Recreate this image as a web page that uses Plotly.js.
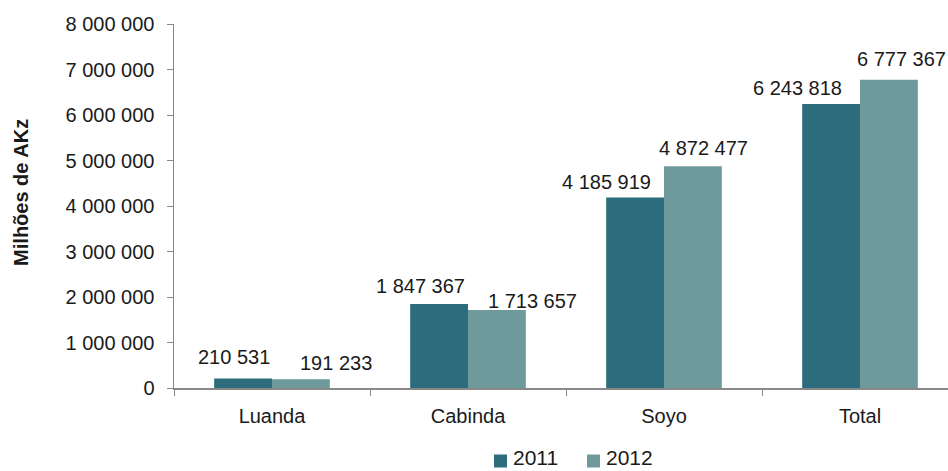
<!DOCTYPE html>
<html><head><meta charset="utf-8">
<script src="https://cdn.plot.ly/plotly-3.0.1.min.js"></script>
<style>html,body{margin:0;padding:0;background:#fff}</style>
</head><body><div id="c" style="width:948px;height:471px"></div>
<script>
const categories = ["Luanda", "Cabinda", "Soyo", "Total"];
const seriesNames = ["2011", "2012"];
const seriesColors = ["#2C6C7C", "#6E9A9C"];
const values2011 = [210531, 1847367, 4185919, 6243818];
const values2012 = [191233, 1713657, 4872477, 6777367];
const labels2011 = ["210 531", "1 847 367", "4 185 919", "6 243 818"];
const labels2012 = ["191 233", "1 713 657", "4 872 477", "6 777 367"];
const yTickVals = [0, 1000000, 2000000, 3000000, 4000000, 5000000, 6000000, 7000000, 8000000];
const yTickText = ["0", "1 000 000", "2 000 000", "3 000 000", "4 000 000", "5 000 000", "6 000 000", "7 000 000", "8 000 000"];

// label placement (pixel nudges, as in the original)
const dx2011 = [-9, -19, -29, -34], dx2012 = [35, 35, 10, 12];
const gap2011 = [14, 11, 9, 9], gap2012 = [9, 2, 11, 14];
const halfBar = 29;

const W = 948, H = 471, ML = 174, MT = 24, MB = 83;
const PW = W - ML, PH = H - MT - MB;
const px = v => (v - ML) / PW;          // pixel -> paper x
const py = v => (H - MB - v) / PH;      // pixel -> paper y

const FAM = "Liberation Sans, Arial, sans-serif";
const font = {family: FAM, size: 20, color: "#1a1a1a"};
const traces = [
  {type: "bar", name: seriesNames[0], x: categories, y: values2011,
   marker: {color: seriesColors[0]}},
  {type: "bar", name: seriesNames[1], x: categories, y: values2012,
   marker: {color: seriesColors[1]}}
];
const annotations = [];
const shapes = [];
const DESC = 6;
categories.forEach((c, i) => {
  annotations.push({x: c, y: values2011[i], xref: "x", yref: "y", text: labels2011[i],
    showarrow: false, xanchor: "center", yanchor: "bottom", font: font,
    xshift: -halfBar + dx2011[i], yshift: gap2011[i] - DESC});
  annotations.push({x: c, y: values2012[i], xref: "x", yref: "y", text: labels2012[i],
    showarrow: false, xanchor: "center", yanchor: "bottom", font: font,
    xshift: halfBar + dx2012[i], yshift: gap2012[i] - DESC});
});
annotations.push({xref: "paper", yref: "paper", x: 0, y: 0.536, xshift: -153,
  xanchor: "center", yanchor: "middle", textangle: -90, showarrow: false,
  text: "<b>Milhões de AKz</b>", font: {family: FAM, size: 20, color: "#1a1a1a"}});

// legend (drawn manually to match the original placement)
const legendX = [494, 587], legendSqMid = 461, sq = 13, legendBottom = 470.5;
seriesNames.forEach((n, k) => {
  shapes.push({type: "rect", xref: "paper", yref: "paper",
    x0: px(legendX[k]), x1: px(legendX[k] + sq), y0: py(legendSqMid + 6.5), y1: py(legendSqMid - 6.5),
    fillcolor: seriesColors[k], line: {width: 0}});
  annotations.push({xref: "paper", yref: "paper", x: px(legendX[k] + sq + 4), y: py(legendBottom),
    xanchor: "left", yanchor: "bottom", showarrow: false, text: n,
    font: {family: FAM, size: 21, color: "#1a1a1a"}});
});

const layout = {
  width: W, height: H,
  margin: {l: ML, r: 0, t: MT, b: MB},
  paper_bgcolor: "#fff", plot_bgcolor: "#fff",
  font: font,
  barmode: "group", bargap: 0.41, bargroupgap: 0,
  xaxis: {range: [-0.5, 3.449], showline: true, linecolor: "#888", linewidth: 1.5,
          ticks: "outside", tickson: "boundaries", ticklen: 6, tickcolor: "#888",
          showgrid: false, zeroline: false, tickfont: font, ticklabelstandoff: 9},
  yaxis: {range: [0, 8000000], tickvals: yTickVals, ticktext: yTickText,
          showline: true, linecolor: "#888", linewidth: 1.5, ticks: "outside",
          ticklen: 6, tickcolor: "#888", showgrid: false, zeroline: false,
          tickfont: font, ticklabelstandoff: 8},
  annotations: annotations,
  shapes: shapes,
  showlegend: false
};
Plotly.newPlot("c", traces, layout, {displayModeBar: false, staticPlot: true});
</script></body></html>
